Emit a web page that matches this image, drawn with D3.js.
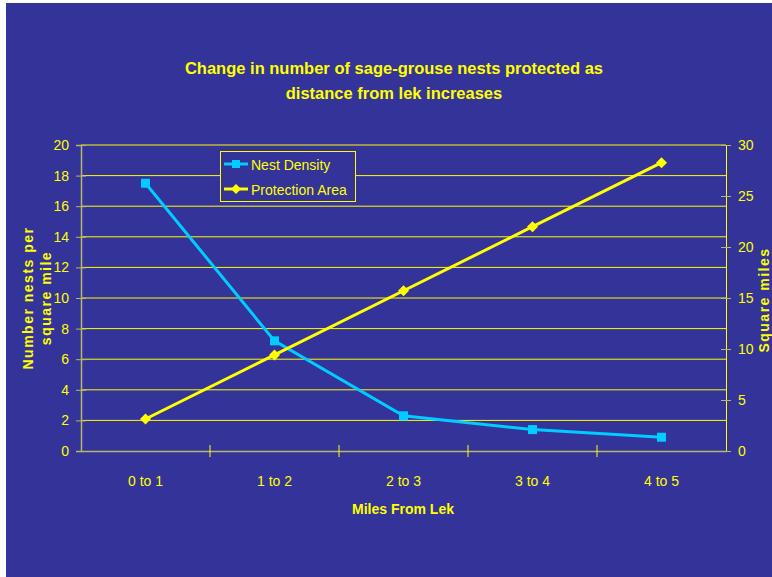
<!DOCTYPE html>
<html>
<head>
<meta charset="utf-8">
<script src="https://cdn.jsdelivr.net/npm/d3@7"></script>
<style>
  html, body { margin: 0; padding: 0; background: #ffffff; }
  svg { display: block; }
  text { font-family: "Liberation Sans", Arial, sans-serif; fill: #ffff00; }
</style>
</head>
<body>
<svg id="chart" width="772" height="577"></svg>
<script>
// Distance bands from the lek
const categories = ["0 to 1", "1 to 2", "2 to 3", "3 to 4", "4 to 5"];
// Nests per square mile in each band (left axis)
const nestDensity = [17.5, 7.2, 2.3, 1.4, 0.9];
// Area of each ring in square miles (right axis)
const protectionArea = [3.14, 9.42, 15.71, 21.99, 28.27];
// Axis ticks
const leftTicks = [0, 2, 4, 6, 8, 10, 12, 14, 16, 18, 20];
const rightTicks = [0, 5, 10, 15, 20, 25, 30];

const titleLines = ["Change in number of sage-grouse nests protected as", "distance from lek increases"];

const YELLOW = "#ffff00";
const CYAN = "#00ccff";
const AXIS = "#b8b86a";

const svg = d3.select("#chart");

// Slide background
svg.append("rect").attr("x", 6).attr("y", 3).attr("width", 766).attr("height", 574).attr("fill", "#333399");

const plot = { left: 81, right: 726, top: 145, bottom: 451 };

const x = d3.scaleBand().domain(categories).range([plot.left, plot.right]);
const yL = d3.scaleLinear().domain([0, 20]).range([plot.bottom, plot.top]);
const yR = d3.scaleLinear().domain([0, 30]).range([plot.bottom, plot.top]);

// Diamond marker path with a given half-size
const diamond = r => `M0,${-r}L${r},0L0,${r}L${-r},0Z`;

// Horizontal gridlines
svg.append("g").selectAll("line").data(leftTicks.filter(d => d > 0)).join("line")
  .attr("x1", plot.left).attr("x2", plot.right)
  .attr("y1", d => yL(d)).attr("y2", d => yL(d))
  .attr("stroke", YELLOW).attr("stroke-width", 1);

// Left axis
const gL = svg.append("g").attr("transform", `translate(${plot.left},0)`)
  .call(d3.axisLeft(yL).tickValues(leftTicks).tickSize(5).tickPadding(7));
gL.select(".domain").attr("stroke", AXIS).attr("stroke-width", 1.5);
gL.selectAll(".tick line").attr("stroke", AXIS).attr("x2", 5).attr("x1", -5);
gL.selectAll(".tick text").attr("fill", YELLOW).style("font-size", "14px")
  .style("font-family", "'Liberation Sans', Arial, sans-serif");

// Right axis
const gR = svg.append("g").attr("transform", `translate(${plot.right},0)`)
  .call(d3.axisRight(yR).tickValues(rightTicks).tickSize(5).tickPadding(7));
gR.select(".domain").attr("stroke", YELLOW).attr("stroke-width", 1);
gR.selectAll(".tick line").attr("stroke", AXIS).attr("x1", -5).attr("x2", 5);
gR.selectAll(".tick text").attr("fill", YELLOW).style("font-size", "14px")
  .style("font-family", "'Liberation Sans', Arial, sans-serif");

// Bottom axis with ticks at band edges
const gB = svg.append("g").attr("transform", `translate(0,${plot.bottom})`)
  .call(d3.axisBottom(x).tickSize(0).tickPadding(25));
gB.select(".domain").attr("stroke", AXIS).attr("stroke-width", 1.5);
gB.selectAll(".tick text").attr("fill", YELLOW).style("font-size", "14px")
  .style("font-family", "'Liberation Sans', Arial, sans-serif");
gB.selectAll("line.edge").data(categories.slice(1)).join("line").attr("class", "edge")
  .attr("x1", d => x(d)).attr("x2", d => x(d)).attr("y1", -6).attr("y2", 6)
  .attr("stroke", YELLOW).attr("stroke-width", 1);

const cx = d => x(d) + x.bandwidth() / 2;

// Nest density series
svg.append("path").datum(nestDensity)
  .attr("d", d3.line().x((d, i) => cx(categories[i])).y(d => yL(d)))
  .attr("fill", "none").attr("stroke", CYAN).attr("stroke-width", 3);
svg.append("g").selectAll("rect").data(nestDensity).join("rect")
  .attr("x", (d, i) => cx(categories[i]) - 4.5).attr("y", d => yL(d) - 4.5)
  .attr("width", 9).attr("height", 9).attr("fill", CYAN);

// Protection area series
svg.append("path").datum(protectionArea)
  .attr("d", d3.line().x((d, i) => cx(categories[i])).y(d => yR(d)))
  .attr("fill", "none").attr("stroke", YELLOW).attr("stroke-width", 3);
svg.append("g").selectAll("path").data(protectionArea).join("path")
  .attr("d", diamond(5.5))
  .attr("transform", (d, i) => `translate(${cx(categories[i])},${yR(d)})`)
  .attr("fill", YELLOW);

// Title
svg.append("text").attr("x", 394).attr("y", 74).attr("text-anchor", "middle")
  .style("font-size", "16.5px").style("font-weight", "bold")
  .selectAll("tspan").data(titleLines).join("tspan")
  .attr("x", 394).attr("dy", (d, i) => i === 0 ? 0 : 25).text(d => d);

// Axis titles
svg.append("text").attr("x", 403).attr("y", 514).attr("text-anchor", "middle")
  .style("font-size", "14px").style("font-weight", "bold").text("Miles From Lek");

const yTitle = svg.append("text").attr("transform", "translate(33,298) rotate(-90)")
  .attr("text-anchor", "middle").style("font-size", "14px").style("font-weight", "bold")
  .style("letter-spacing", "1.5px");
yTitle.append("tspan").attr("x", 0).attr("y", 0).text("Number nests per");
yTitle.append("tspan").attr("x", 0).attr("y", 18).text("square mile");

svg.append("text").attr("transform", "translate(769,300) rotate(-90)")
  .attr("text-anchor", "middle").style("font-size", "14px").style("font-weight", "bold")
  .style("letter-spacing", "1.5px").text("Square miles");

// Legend
const legend = svg.append("g");
legend.append("rect").attr("x", 220.5).attr("y", 151.5).attr("width", 135).attr("height", 50)
  .attr("fill", "#333399").attr("stroke", YELLOW).attr("stroke-width", 1);
const legendItems = [
  { name: "Nest Density", color: CYAN, shape: "square", y: 164 },
  { name: "Protection Area", color: YELLOW, shape: "diamond", y: 189 }
];
legendItems.forEach(item => {
  legend.append("line").attr("x1", 224).attr("x2", 248).attr("y1", item.y).attr("y2", item.y)
    .attr("stroke", item.color).attr("stroke-width", 3);
  if (item.shape === "square") {
    legend.append("rect").attr("x", 232).attr("y", item.y - 4).attr("width", 8).attr("height", 8).attr("fill", item.color);
  } else {
    legend.append("path").attr("d", diamond(5))
      .attr("transform", `translate(236,${item.y})`).attr("fill", item.color);
  }
  legend.append("text").attr("x", 251).attr("y", item.y + 5.5).style("font-size", "14px").text(item.name);
});
</script>
</body>
</html>
